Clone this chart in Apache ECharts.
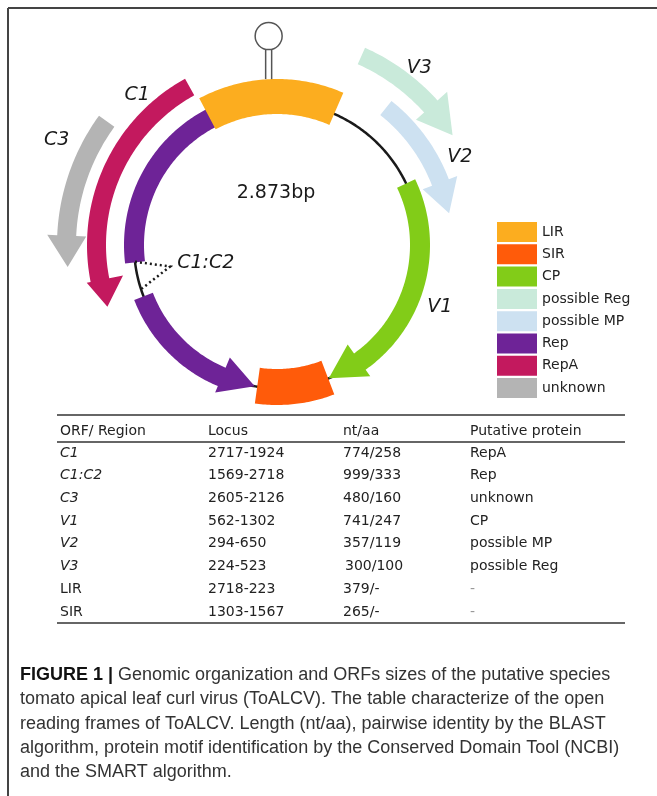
<!DOCTYPE html>
<html>
<head>
<meta charset="utf-8">
<title>ToALCV genome map</title>
<script src="https://cdn.jsdelivr.net/npm/echarts@6/dist/echarts.min.js"></script>
<style>
  html, body { margin: 0; padding: 0; background: #fff; }
  #chart { width: 657px; height: 796px; }
</style>
</head>
<body>
<div id="chart"></div>
<script>
// genome size, bp
const genomeSize = 2873

// legend groups, in legend order
const groups = ['LIR', 'SIR', 'CP', 'possible Reg', 'possible MP', 'Rep', 'RepA', 'unknown']

// features as they are placed on the map (bp)
const featNames = ['LIR', 'SIR', 'V1', 'V3', 'V2', 'C1:C2', 'C1:C2', 'C1', 'C3']
const featGroup = ['LIR', 'SIR', 'CP', 'possible Reg', 'possible MP', 'Rep', 'Rep', 'RepA', 'unknown']
const featStrand = [1, 1, 1, 1, 1, -1, -1, -1, -1]
const featStart = [2650, 1269, 515, 192, 307, 2665, 1987, 2642, 2442]
const featEnd = [188, 1500, 1267, 463, 635, 2099, 1508, 1995, 2107]

// table
const tableHead = ['ORF/ Region', 'Locus', 'nt/aa', 'Putative protein']
const orfNames = ['C1', 'C1:C2', 'C3', 'V1', 'V2', 'V3', 'LIR', 'SIR']
const orfLocus = ['2717-1924', '1569-2718', '2605-2126', '562-1302', '294-650', '224-523', '2718-223', '1303-1567']
const orfSize = ['774/258', '999/333', '480/160', '741/247', '357/119', '300/100', '379/-', '265/-']
const orfProtein = ['RepA', 'Rep', 'unknown', 'CP', 'possible MP', 'possible Reg', '-', '-']

const caption = [
    'Genomic organization and ORFs sizes of the putative species',
    'tomato apical leaf curl virus (ToALCV). The table characterize of the open',
    'reading frames of ToALCV. Length (nt/aa), pairwise identity by the BLAST',
    'algorithm, protein motif identification by the Conserved Domain Tool (NCBI)',
    'and the SMART algorithm.'
]

// ---- styles / layout ----
const groupColors = {
    'LIR': '#fcad1f',
    'SIR': '#ff5b0a',
    'CP': '#82cc18',
    'possible Reg': '#c9eada',
    'possible MP': '#cde1f1',
    'Rep': '#6e2397',
    'RepA': '#c3195e',
    'unknown': '#b4b4b4'
}

// radii in px (polar radius axis is 0..250 px), head = [inner, outer, length in bp]
const shapes = [
    {r: [131, 166], hairpin: true},
    {r: [124, 160]},
    {r: [133, 153], head: [122, 161, 113], tip: 143, label: [174, 884]},
    {r: [198, 216], head: [187, 229, 80], label: [227, 310]},
    {r: [166, 184], head: [156, 193, 84], label: [203, 513]},
    {r: [133, 153]},
    {r: [133, 153], head: [122, 160, 110], tip: 143,
        callout: {apex: [109, 2064], from: [[143, 2101], [142, 2012]]}},
    {r: [171, 190], head: [157, 194, 70], label: [205, 2530]},
    {r: [201, 220], head: [191, 230, 68], label: [244, 2358]}
]

const mapFont = 'DejaVu Sans'
const ink = '#1a1a1a'

function arcPoints(api, r, a0, a1) {
    const n = Math.max(2, Math.ceil(Math.abs(a1 - a0) / 6))
    const pts = []
    for (let k = 0; k <= n; k++) {
        pts.push(api.coord([r, a0 + (a1 - a0) * k / n]))
    }
    return pts
}

function renderFeature(params, api) {
    let s = api.value(0)
    let e = api.value(1)
    const i = api.value(2)
    const dir = featStrand[i]
    const sh = shapes[i]
    if (dir > 0 && e < s) e += genomeSize
    if (dir < 0 && e > s) e -= genomeSize
    const [r0, r1] = sh.r
    let pts
    if (sh.head) {
        const [h0, h1, len] = sh.head
        const hb = e - dir * len
        const tip = sh.tip || (r0 + r1) / 2
        pts = arcPoints(api, r1, s, hb)
            .concat([api.coord([h1, hb]), api.coord([tip, e]), api.coord([h0, hb])])
            .concat(arcPoints(api, r0, hb, s))
    } else {
        pts = arcPoints(api, r1, s, e).concat(arcPoints(api, r0, e, s))
    }
    const children = [{
        type: 'polygon',
        shape: {points: pts},
        style: {fill: api.visual('color')}
    }]
    if (sh.label) {
        const p = api.coord(sh.label)
        children.push({
            type: 'text', x: p[0], y: p[1],
            style: {text: featNames[i], fontFamily: mapFont, fontStyle: 'italic', fontSize: 19,
                fill: ink, align: 'center', verticalAlign: 'middle'}
        })
    }
    if (sh.callout) {
        const a = api.coord(sh.callout.apex)
        const p1 = api.coord(sh.callout.from[0])
        const p2 = api.coord(sh.callout.from[1])
        children.push({
            type: 'polyline',
            shape: {points: [p1, a, p2]},
            style: {stroke: ink, lineWidth: 2.5, lineDash: [2, 3], fill: null}
        })
        children.push({
            type: 'text', x: a[0] + 7, y: a[1] - 3,
            style: {text: featNames[i], fontFamily: mapFont, fontStyle: 'italic', fontSize: 19,
                fill: ink, align: 'left', verticalAlign: 'middle'}
        })
    }
    if (sh.hairpin) {
        // stem-loop on top of the LIR
        const top = api.coord([r1, (s + e) / 2])
        const x = top[0] - 2
        const y = top[1]
        const stroke = {stroke: '#555', lineWidth: 1.5}
        children.push({type: 'line', shape: {x1: x - 3, y1: y, x2: x - 3, y2: y - 30}, style: stroke})
        children.push({type: 'line', shape: {x1: x + 3, y1: y, x2: x + 3, y2: y - 30}, style: stroke})
        children.push({type: 'circle', shape: {cx: x, cy: y - 43, r: 13.5},
            style: {fill: '#fff', stroke: '#555', lineWidth: 1.5}})
    }
    return {type: 'group', children: children}
}

function renderBackbone(params, api) {
    return {
        type: 'polyline',
        shape: {points: arcPoints(api, 143, api.value(0), api.value(1))},
        style: {stroke: ink, lineWidth: 2.5, fill: null}
    }
}

// draw order: backbone, outer tracks, ring, then the intergenic boxes on top
const drawOrder = ['unknown', 'RepA', 'possible Reg', 'possible MP', 'Rep', 'CP', 'SIR', 'LIR']

const series = [{
    type: 'custom',
    name: 'backbone',
    coordinateSystem: 'polar',
    silent: true,
    renderItem: renderBackbone,
    data: [[0, genomeSize, -1]]
}]
drawOrder.forEach(g => {
    const data = []
    featGroup.forEach((fg, i) => {
        if (fg === g) data.push([featStart[i], featEnd[i], i])
    })
    series.push({
        type: 'custom',
        name: g,
        coordinateSystem: 'polar',
        silent: true,
        itemStyle: {color: groupColors[g]},
        renderItem: renderFeature,
        data: data
    })
})

// ---- table + caption as graphic ----
const tableLeft = 57
const tableRight = 625
const colX = [60, 208, 343, 470]
const headY = 431
const rowY0 = 453
const rowH = 22.7
const tableFont = {fontFamily: mapFont, fontSize: 14, fill: '#222', verticalAlign: 'middle', align: 'left'}

const graphic = []
// frame of the figure box
graphic.push({type: 'line', shape: {x1: 8, y1: 8, x2: 657, y2: 8}, style: {stroke: '#444', lineWidth: 2}})
graphic.push({type: 'line', shape: {x1: 8, y1: 8, x2: 8, y2: 796}, style: {stroke: '#444', lineWidth: 2}})

graphic.push({
    type: 'text', x: 276, y: 193,
    style: {text: '2.873bp', fontFamily: mapFont, fontSize: 19, fill: ink, align: 'center', verticalAlign: 'middle'}
})

;[415, 442, 623].forEach(y => {
    graphic.push({type: 'line', shape: {x1: tableLeft, y1: y, x2: tableRight, y2: y},
        style: {stroke: '#333', lineWidth: 1.5}})
})
tableHead.forEach((t, c) => {
    graphic.push({type: 'text', x: colX[c], y: headY, style: Object.assign({text: t}, tableFont)})
})
orfNames.forEach((name, r) => {
    const y = rowY0 + r * rowH
    const cells = [name, orfLocus[r], orfSize[r], orfProtein[r]]
    cells.forEach((t, c) => {
        const st = Object.assign({text: t}, tableFont)
        if (c === 0 && /^[CV]/.test(name)) st.fontStyle = 'italic'
        if (t === '-') st.fill = '#999'
        graphic.push({type: 'text', x: colX[c] + (t === '300/100' ? 2 : 0), y: y, style: st})
    })
})

const capFont = 'Liberation Sans'
caption.forEach((line, k) => {
    const text = k === 0 ? '{b|FIGURE 1 |} ' + line : line
    graphic.push({
        type: 'text', x: 20, y: 675 + k * 24.3,
        style: {
            text: text, fontFamily: capFont, fontSize: 18, fill: '#333',
            verticalAlign: 'middle', align: 'left',
            rich: {b: {fontFamily: capFont, fontSize: 18, fontWeight: 'bold', fill: '#111'}}
        }
    })
})

const chart = echarts.init(document.getElementById('chart'), null, {renderer: 'canvas'})
chart.setOption({
    animation: false,
    backgroundColor: '#fff',
    polar: {center: [277, 245], radius: 250},
    angleAxis: {type: 'value', min: 0, max: genomeSize, startAngle: 90, clockwise: true, show: false},
    radiusAxis: {type: 'value', min: 0, max: 250, show: false},
    legend: {
        data: groups,
        orient: 'vertical',
        left: 492,
        top: 217,
        itemWidth: 40,
        itemHeight: 20,
        itemGap: 2.3,
        icon: 'rect',
        selectedMode: false,
        textStyle: {fontFamily: mapFont, fontSize: 14, color: '#222'}
    },
    series: series,
    graphic: graphic
})
</script>
</body>
</html>
